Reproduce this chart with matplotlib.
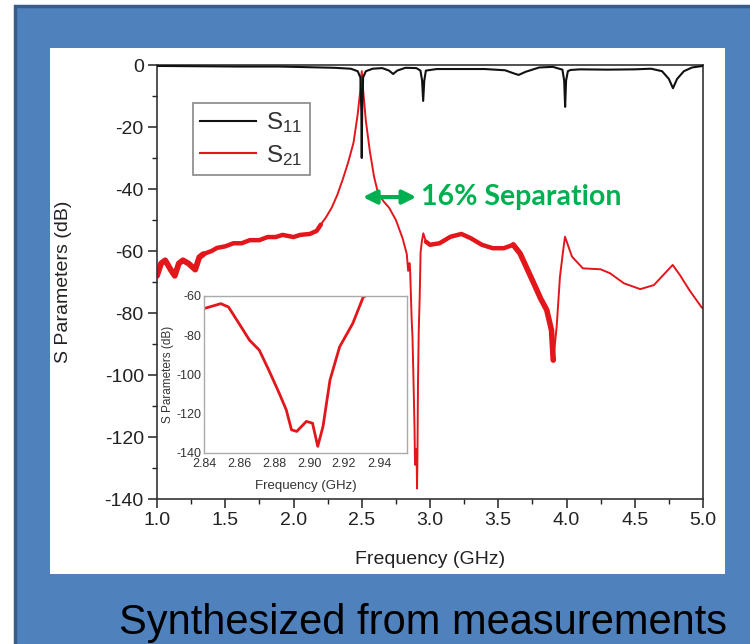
import numpy as np
import matplotlib
matplotlib.use("Agg")
import matplotlib.pyplot as plt
from matplotlib.patches import Rectangle
from matplotlib import font_manager

plt.rcParams['font.family'] = ['Liberation Sans', 'DejaVu Sans']
plt.rcParams['mathtext.default'] = 'regular'
plt.rcParams['axes.unicode_minus'] = False

# S11 (reflection)
f11 = [1.0, 1.3, 1.6, 1.9, 2.1, 2.3, 2.42, 2.47, 2.49, 2.497, 2.5, 2.503, 2.51, 2.53,
       2.58, 2.65, 2.7, 2.73, 2.76, 2.82, 2.9, 2.93, 2.942, 2.95, 2.958, 2.97, 3.05,
       3.2, 3.4, 3.55, 3.62, 3.65, 3.7, 3.8, 3.9, 3.97, 3.983, 3.99, 3.997, 4.01, 4.03,
       4.1, 4.3, 4.5, 4.62, 4.7, 4.75, 4.78, 4.81, 4.86, 4.92, 5.0]
s11 = [-0.3, -0.4, -0.5, -0.5, -0.7, -0.9, -1.2, -2.0, -4.0, -15.0, -30.0, -15.0, -4.0, -2.0,
       -1.2, -1.0, -1.8, -2.9, -1.8, -0.9, -1.0, -1.8, -5.0, -11.6, -5.0, -1.8, -1.3,
       -1.3, -1.3, -1.7, -2.8, -3.2, -2.2, -0.8, -0.6, -1.5, -5.0, -13.5, -5.0, -2.0, -1.6,
       -1.4, -1.5, -1.4, -1.2, -2.0, -4.5, -7.5, -4.5, -2.0, -0.8, -0.3]

# S21 (transmission)
f21 = [1.0, 1.03, 1.06, 1.1, 1.13, 1.16, 1.19, 1.23, 1.28, 1.31, 1.34, 1.4, 1.44, 1.5,
       1.56, 1.62, 1.68, 1.75, 1.81, 1.87, 1.92, 2.0, 2.05, 2.12, 2.17, 2.2, 2.24, 2.28,
       2.32, 2.36, 2.4, 2.44, 2.47, 2.49, 2.5, 2.51, 2.53, 2.56, 2.59, 2.62, 2.66,
       2.7, 2.75, 2.8, 2.83, 2.84, 2.8496, 2.854, 2.86, 2.866, 2.8716, 2.877,
       2.883, 2.887, 2.89, 2.893, 2.8985, 2.902, 2.905, 2.908, 2.912, 2.9175, 2.925, 2.931,
       2.94, 2.951, 2.97, 3.0, 3.07, 3.15, 3.23, 3.3, 3.38, 3.46, 3.54, 3.61, 3.66, 3.71,
       3.76, 3.81, 3.855, 3.89, 3.903, 3.928, 3.952, 3.975, 3.989, 4.04, 4.12, 4.25, 4.32,
       4.42, 4.54, 4.64, 4.71, 4.778, 4.83, 4.9, 4.99, 5.0]
s21 = [-68, -64, -63, -66, -68, -64, -63, -64, -66, -62, -61, -60, -59, -58.5,
       -57.5, -57.5, -56.5, -56.5, -55.5, -55.5, -54.8, -55.5, -54.8, -54.5, -53.5, -51.5, -49, -46,
       -42, -37, -31.5, -25, -16, -8, -2, -8, -18, -28, -36, -41.5, -44,
       -46, -50, -56, -61, -66.4, -63.9, -65.6, -74, -82.5, -87.6, -97.7,
       -109.6, -118, -128.2, -129, -123.9, -124.8, -136.6, -126.5, -102.8, -85.9, -74, -60.5,
       -57, -54.3, -57, -58, -57.5, -55.4, -54.5, -55.9, -58, -59.1, -59.1, -58, -60.8, -65.6,
       -70.4, -75.3, -79, -85.5, -95.2, -84.4, -68.3, -60, -55.4, -61.8, -65.6, -65.9, -67.2,
       -70.4, -72.3, -71, -67.7, -64.5, -67.7, -72.6, -78.2, -78.5]

xticks = [1.0, 1.5, 2.0, 2.5, 3.0, 3.5, 4.0, 4.5, 5.0]
yticks = [0, -20, -40, -60, -80, -100, -120, -140]
inset_xticks = [2.84, 2.86, 2.88, 2.90, 2.92, 2.94]
inset_yticks = [-60, -80, -100, -120, -140]

red = '#E3161B'
green = '#00B050'

fig = plt.figure(figsize=(7.5, 6.44), dpi=100)
fig.patch.set_facecolor('white')
fig.patches.append(Rectangle((15 / 750, -0.01), 740 / 750, 1 - 6 / 644 + 0.01,
                             transform=fig.transFigure, facecolor='#4F81BD',
                             edgecolor='#385D8A', lw=2.5, zorder=-3))
fig.patches.append(Rectangle((50 / 750, 1 - 574 / 644), 675 / 750, 526 / 644,
                             transform=fig.transFigure, facecolor='white',
                             edgecolor='none', zorder=-2))

ax = fig.add_axes([157 / 750, 1 - 499 / 644, 546 / 750, 434 / 644])
f21a = np.array(f21)
s21a = np.array(s21)
ax.plot(f21a, s21a, color=red, lw=1.4, zorder=2)
# measurement noise makes the trace look thick in these bands
for lo, hi, w in [(1.0, 1.36, 4.2), (1.34, 2.22, 3.2), (2.96, 3.66, 3.2), (3.61, 3.91, 4.0)]:
    m = (f21a >= lo) & (f21a <= hi)
    ax.plot(f21a[m], s21a[m], color=red, lw=w, zorder=2, solid_capstyle='round')
l11, = ax.plot(f11, s11, color='#111111', lw=1.5, zorder=3, label='S$_{11}$')
l21, = ax.plot([], [], color=red, lw=1.5, label='S$_{21}$')

ax.set_xlim(1.0, 5.0)
ax.set_ylim(-140, 0)
ax.set_xticks(xticks)
ax.set_yticks(yticks)
ax.set_xticklabels([f'{v:.1f}' for v in xticks])
ax.set_xticks(np.arange(1.25, 5.0, 0.5), minor=True)
ax.set_yticks(np.arange(-130, 0, 20), minor=True)
ax.tick_params(which='major', direction='out', length=6.5, width=1.1, labelsize=14,
               colors='#222222', pad=3)
ax.tick_params(which='minor', direction='out', length=3.5, width=1.0, colors='#222222')
for s in ax.spines.values():
    s.set_color('#333333')
    s.set_linewidth(1.2)
ax.set_xlabel('Frequency (GHz)', fontsize=14, color='#222222')
ax.set_ylabel('S Parameters (dB)', fontsize=14, color='#222222')
ax.xaxis.set_label_coords(0.5, -0.12)
ax.yaxis.set_label_coords(-0.155, 0.5)

leg = ax.legend(handles=[l11, l21], loc='upper left', bbox_to_anchor=(0.066, 0.912),
                borderaxespad=0, fontsize=17.5, frameon=True, fancybox=False,
                edgecolor='#888888', framealpha=1, handlelength=2.3, labelspacing=0.3,
                borderpad=0.3, handletextpad=0.4)
leg.get_frame().set_linewidth(1.2)
for t in leg.get_texts():
    t.set_color('#333333')

ax.annotate('', xy=(2.508, -42.6), xytext=(2.9, -42.6),
            arrowprops=dict(arrowstyle='<|-|>', color=green, lw=3, mutation_scale=20,
                            shrinkA=0, shrinkB=0))
ax.text(2.935, -42.6, '16% Separation', color=green, fontsize=20.5, fontweight='bold',
        family=['Lato', 'DejaVu Sans'], va='center', ha='left')

# inset zoom of the notch
axi = fig.add_axes([204 / 750, 1 - 453 / 644, 203 / 750, 157 / 644])
axi.plot(f21, s21, color=red, lw=2.0)
axi.set_xlim(2.84, 2.956)
axi.set_ylim(-140, -60)
axi.set_xticks(inset_xticks)
axi.set_xticklabels([f'{v:.2f}' for v in inset_xticks])
axi.set_yticks(inset_yticks)
axi.tick_params(length=0, labelsize=9, colors='#333333', pad=2)
axi.tick_params(axis='x', pad=3.5)
for s in axi.spines.values():
    s.set_color('#AAAAAA')
    s.set_linewidth(1.0)
axi.set_xlabel('Frequency (GHz)', fontsize=9.5, color='#333333')
axi.set_ylabel('S Parameters (dB)', fontsize=8.5, color='#333333')
axi.xaxis.set_label_coords(0.5, -0.17)
axi.yaxis.set_label_coords(-0.15, 0.5)

# narrow font for the slide caption if there is one
caption_font = 'Liberation Sans'
for name in ['Liberation Sans Narrow', 'DejaVu Sans Condensed']:
    try:
        font_manager.findfont(font_manager.FontProperties(family=name),
                              fallback_to_default=False)
        caption_font = name
        break
    except Exception:
        pass
cap = fig.text(727 / 750, 1 - 634 / 644, 'Synthesized from measurements', ha='right',
               va='baseline', fontsize=36.5, color='black', family=caption_font)
fig.canvas.draw()
w = cap.get_window_extent().width
if w > 610:
    cap.set_fontsize(36.5 * 610 / w)

fig.savefig('out.png', dpi=100)
